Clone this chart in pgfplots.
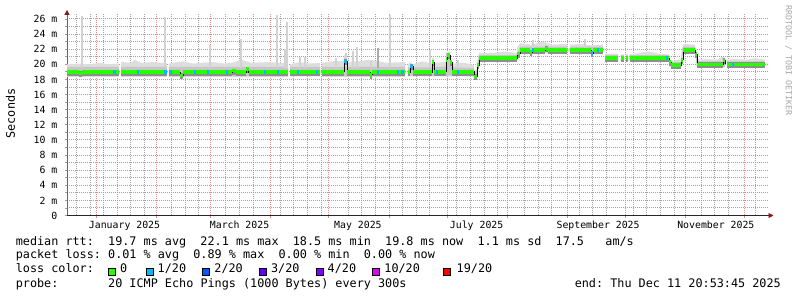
\documentclass[border=0pt]{standalone}
\usepackage{fontspec}
\setmainfont{DejaVu Sans Mono}
\usepackage{pgfplots}
\pgfplotsset{compat=1.18}
\usetikzlibrary{arrows.meta}
\definecolor{mgrid}{HTML}{DC8C8C}
\definecolor{ngrid}{HTML}{A0A0A0}
\definecolor{arrowred}{HTML}{8B1A1A}
\definecolor{smokeA}{HTML}{DEDEDE}
\definecolor{smokeB}{HTML}{C6C6C6}
\definecolor{smokeC}{HTML}{8E8E8E}
\definecolor{spike}{HTML}{D2D2D2}
\definecolor{spikeD}{HTML}{ABABAB}
\definecolor{lossA}{HTML}{26FF00}
\definecolor{lossB}{HTML}{00B8FF}
\definecolor{lossC}{HTML}{0059FF}
\definecolor{lossD}{HTML}{5E00FF}
\definecolor{lossE}{HTML}{7E00FF}
\definecolor{lossF}{HTML}{DD00FF}
\definecolor{lossG}{HTML}{FF0000}
\newcommand\legfont{\fontsize{11.8}{14}\selectfont}
\newcommand\tickfont{\fontsize{9.85}{12}\selectfont}

\begin{document}
\frenchspacing
\begin{tikzpicture}[x=1pt,y=1pt]
\useasboundingbox (0,0) rectangle (797,297);
\begin{axis}[
  at={(67pt,81.5pt)}, anchor=south west,
  scale only axis, width=702pt, height=201.1pt,
  xmin=-14.95, xmax=346.9, ymin=0, ymax=26.6,
  axis lines=left,
  x axis line style={black!85, line width=0.9pt, -{Triangle[length=5pt,width=5pt,color=arrowred]}, shorten >=-4.5pt},
  y axis line style={black!60, line width=0.9pt, -{Triangle[length=5pt,width=5pt,color=arrowred]}, shorten >=-4.5pt},
  unbounded coords=jump,
  xmajorgrids=true, ymajorgrids=true, yminorgrids=true,
  major grid style={mgrid, line width=0.9pt, dash pattern=on 1pt off 1pt},
  minor grid style={ngrid, line width=0.9pt, dash pattern=on 1pt off 1pt},
  tick align=outside, major tick length=2.5pt, minor tick length=2.5pt,
  major tick style={mgrid, line width=0.8pt},
  minor tick style={ngrid, line width=0.8pt},
  xtick={0,31,59,90,120,151,181,212,243,273,304,334},
  xticklabels={},
  extra x ticks={14.7,74,135,196.2,258.8,319.5},
  extra x tick labels={January 2025,March 2025,May 2025,July 2025,September 2025,November 2025},
  extra x tick style={major grid style={draw=none}, major tick length=0pt},
  ytick={0,2,...,26},
  yticklabels={0,2 m,4 m,6 m,8 m,10 m,12 m,14 m,16 m,18 m,20 m,22 m,24 m,26 m},
  minor ytick={1,3,...,25},
  tick label style={font=\tickfont, text=black},
  xticklabel style={anchor=base, inner sep=0pt, yshift=-13pt},
  yticklabel style={anchor=east, inner sep=0pt, xshift=-7pt},
]
% weekly grid lines
\addplot[ngrid, line width=1pt, dash pattern=on 1pt off 1pt, forget plot] coordinates {
(-10,-0.4) (-10,26.6) (-10,nan) (-3,-0.4) (-3,26.6) (-3,nan) (4,-0.4) (4,26.6) (4,nan)
(11,-0.4) (11,26.6) (11,nan) (18,-0.4) (18,26.6) (18,nan) (25,-0.4) (25,26.6) (25,nan)
(39,-0.4) (39,26.6) (39,nan) (46,-0.4) (46,26.6) (46,nan) (53,-0.4) (53,26.6) (53,nan)
(67,-0.4) (67,26.6) (67,nan) (74,-0.4) (74,26.6) (74,nan) (81,-0.4) (81,26.6) (81,nan)
(95,-0.4) (95,26.6) (95,nan) (102,-0.4) (102,26.6) (102,nan) (109,-0.4) (109,26.6) (109,nan)
(116,-0.4) (116,26.6) (116,nan) (130,-0.4) (130,26.6) (130,nan) (137,-0.4) (137,26.6) (137,nan)
(144,-0.4) (144,26.6) (144,nan) (158,-0.4) (158,26.6) (158,nan) (165,-0.4) (165,26.6) (165,nan)
(172,-0.4) (172,26.6) (172,nan) (186,-0.4) (186,26.6) (186,nan) (193,-0.4) (193,26.6) (193,nan)
(200,-0.4) (200,26.6) (200,nan) (207,-0.4) (207,26.6) (207,nan) (221,-0.4) (221,26.6) (221,nan)
(228,-0.4) (228,26.6) (228,nan) (235,-0.4) (235,26.6) (235,nan) (249,-0.4) (249,26.6) (249,nan)
(256,-0.4) (256,26.6) (256,nan) (263,-0.4) (263,26.6) (263,nan) (277,-0.4) (277,26.6) (277,nan)
(284,-0.4) (284,26.6) (284,nan) (291,-0.4) (291,26.6) (291,nan) (298,-0.4) (298,26.6) (298,nan)
(312,-0.4) (312,26.6) (312,nan) (319,-0.4) (319,26.6) (319,nan) (326,-0.4) (326,26.6) (326,nan)
(340,-0.4) (340,26.6)
};
% smoke, outer band
\addplot[fill=smokeA, draw=none] coordinates {
(-14.95,20.0) (-9,20.1) (-3,20.0) (2,20.2) (6,20.0) (11.9,20.1) (11.9,18.35) (-14.95,18.35) (-14.95,nan)
(12.9,20.3) (18,20.2) (20,20.6) (23,20.2) (30,20.3) (36.6,20.1) (36.6,18.35) (12.9,18.35) (12.9,nan)
(37.6,20.1) (45,20.4) (50,20.1) (60,20.3) (66,20.1) (70,20.2) (75,20.6) (80,20.2) (90,20.3) (99,20.1) (99,18.3) (37.6,18.3) (37.6,nan)
(100,20.0) (105,20.3) (110,20.1) (115.5,20.2) (115.5,18.4) (100,18.4) (100,nan)
(116.5,20.2) (122,20.4) (127.8,20.5) (127.8,21.2) (129.4,21.2) (129.4,20.3) (135,20.4) (141,20.6) (150,20.2) (159.3,20.3) (159.3,18.35) (116.5,18.35) (116.5,nan)
(160.8,20.0) (161.9,20.3) (163.4,20.0) (168,20.4) (173.2,20.1) (173.2,20.8) (174.2,20.8) (174.2,20.2) (180.4,20.3) (180.4,21.6) (182.5,21.6) (183.5,20.1) (190,20.2) (194.8,19.9) (194.8,19.3) (196.4,19.3) (196.4,20.3) (197.4,21.5) (205,21.5) (210,21.7) (217,21.5) (217,22.2) (218.6,22.8) (225,22.6) (230,23.0) (235,22.6) (242.8,22.7) (242.8,21.45) (218.6,21.45) (217,20.45) (197.4,20.45) (196.4,18.0) (194.8,18.0) (194.8,18.4) (160.8,18.4) (160.8,nan)
(244.3,22.6) (250,22.7) (255.2,22.5) (261.3,22.6) (261.3,21.45) (244.3,21.45) (244.3,nan)
(262.4,21.4) (269.1,21.4) (269.1,20.45) (262.4,20.45) (262.4,nan)
(270.6,21.3) (272.2,21.3) (272.2,20.45) (270.6,20.45) (270.6,nan)
(273.2,21.3) (274.2,21.3) (274.2,20.45) (273.2,20.45) (273.2,nan)
(275,21.3) (280,21.5) (285,21.7) (290,21.4) (295.4,21.3) (295.4,20.7) (296.4,20.5) (301.5,20.6) (301.5,21.2) (302.6,22.7) (308.8,22.6) (308.8,21.9) (309.8,20.6) (315,20.7) (320,20.6) (323.2,21.0) (324.2,20.6) (324.2,19.55) (309.8,19.55) (308.8,21.55) (302.6,21.55) (301.5,19.45) (296.4,19.45) (295.4,20.45) (275,20.45) (275,nan)
(325.3,20.6) (330,20.7) (335,20.6) (340,20.8) (344.8,20.6) (344.8,19.55) (325.3,19.55)
};
% smoke, inner band
\addplot[fill=smokeB, draw=none] coordinates {
(-14.95,19.65) (11.9,19.65) (11.9,18.5) (-14.95,18.5) (-14.95,nan)
(12.9,19.65) (36.6,19.65) (36.6,18.5) (12.9,18.5) (12.9,nan)
(37.6,19.65) (99,19.65) (99,18.45) (37.6,18.45) (37.6,nan)
(100,19.65) (115.5,19.65) (115.5,18.5) (100,18.5) (100,nan)
(116.5,19.65) (127.8,19.65) (127.8,20.8) (129.4,20.8) (129.4,19.65) (159.3,19.65) (159.3,18.45) (116.5,18.45) (116.5,nan)
(160.8,19.6) (173.2,19.6) (173.2,20.6) (174.2,20.6) (174.2,19.6) (180.4,19.7) (180.4,21.4) (182.5,21.4) (183.5,19.6) (194.8,19.5) (194.8,18.9) (196.4,19.2) (197.4,21.2) (217,21.2) (218.6,22.35) (242.8,22.35) (242.8,21.65) (218.6,21.65) (217,20.55) (197.4,20.55) (196.4,18.15) (194.8,18.15) (194.8,18.5) (160.8,18.5) (160.8,nan)
(244.3,22.35) (261.3,22.35) (261.3,21.65) (244.3,21.65) (244.3,nan)
(262.4,21.2) (269.1,21.2) (269.1,20.55) (262.4,20.55) (262.4,nan)
(270.6,21.2) (272.2,21.2) (272.2,20.55) (270.6,20.55) (270.6,nan)
(273.2,21.2) (274.2,21.2) (274.2,20.55) (273.2,20.55) (273.2,nan)
(275,21.2) (295.4,21.2) (295.4,20.7) (296.4,20.3) (301.5,20.3) (302.6,22.35) (308.8,22.35) (309.8,20.4) (324.2,20.4) (324.2,19.65) (309.8,19.65) (308.8,21.65) (302.6,21.65) (301.5,19.6) (296.4,19.6) (295.4,20.55) (275,20.55) (275,nan)
(325.3,20.4) (344.8,20.4) (344.8,19.65) (325.3,19.65)
};
% smoke spikes
\addplot[spike, line width=1.6pt] coordinates {
(-7.2,19.5) (-7.2,26.4) (-7.2,nan)
(35.6,19.5) (35.6,26.3) (35.6,nan)
(58.8,19.5) (58.8,22.6) (58.8,nan)
(74.7,19.5) (74.7,23.4) (74.7,nan)
(93.3,19.5) (93.3,26.5) (93.3,nan)
(97.4,19.5) (97.4,22.0) (97.4,nan)
(98.5,19.5) (98.5,25.6) (98.5,nan)
(105.2,19.5) (105.2,20.9) (105.2,nan)
(107.7,19.5) (107.7,20.9) (107.7,nan)
(123.7,19.5) (123.7,20.8) (123.7,nan)
(128.9,19.5) (128.9,21.5) (128.9,nan)
(132.5,19.5) (132.5,21.7) (132.5,nan)
(134.5,19.5) (134.5,22.3) (134.5,nan)
(141.8,19.5) (141.8,20.4) (141.8,nan)
(151.5,19.5) (151.5,26.5) (151.5,nan)
(172.2,19.5) (172.2,21.9) (172.2,nan)
(186.6,19.5) (186.6,20.6) (186.6,nan)
(225.3,21.5) (225.3,23.2) (225.3,nan)
(232,21.5) (232,22.5) (232,nan)
(252,21.5) (252,23.4) (252,nan)
(323.2,20) (323.2,21.0)
};
\addplot[spikeD, line width=1.6pt] coordinates {(145.4,19.5) (145.4,22.2)};
% dense core of the smoke (same horizontal median runs, shifted down)
\addplot[smokeC, line width=6pt, yshift=-0.8pt] coordinates {
(-14.95,18.95) (-9,18.95) (-9,nan) (-9,18.8) (-7,18.8) (-7,nan) (-7,18.95) (11.9,18.95) (11.9,nan)
(12.9,18.95) (36.6,18.95) (36.6,nan)
(37.6,18.95) (43.3,18.95) (43.3,nan) (43.3,18.55) (44.8,18.55) (44.8,nan) (44.8,18.95) (70.1,18.95) (70.1,nan)
(70.1,19.15) (72.2,19.15) (72.2,nan) (72.2,18.95) (77.3,18.95) (77.3,nan) (77.3,19.35) (78.8,19.35) (78.8,nan)
(78.8,18.95) (99,18.95) (99,nan)
(100,19.0) (115.5,19.0) (115.5,nan)
(116.5,19.0) (127.8,19.0) (127.8,nan) (127.8,20.4) (129.4,20.4) (129.4,nan) (129.4,18.95) (141.2,18.95) (141.2,nan)
(141.2,18.6) (142.5,18.6) (142.5,nan) (142.5,18.95) (159.3,18.95) (159.3,nan)
(160.8,18.95) (161.9,18.95) (161.9,nan) (161.9,19.7) (163.4,19.7) (163.4,nan) (163.4,18.95) (173.2,18.95) (173.2,nan)
(173.2,20.3) (174.2,20.3) (174.2,nan) (174.2,19.0) (180.4,19.0) (180.4,nan) (180.4,20.6) (180.9,20.6) (180.9,nan)
(180.9,21.2) (182.5,21.2) (182.5,nan) (182.5,20.3) (183.5,20.3) (183.5,nan) (183.5,19.0) (194.8,19.0) (194.8,nan)
(194.8,18.4) (196.4,18.4) (196.4,nan) (196.4,19.9) (197.4,19.9) (197.4,nan) (197.4,20.8) (217,20.8) (217,nan)
(217,21.4) (218.6,21.4) (218.6,nan) (218.6,21.9) (223.7,21.9) (223.7,nan) (223.7,21.6) (224.7,21.6) (224.7,nan)
(224.7,21.9) (231.4,21.9) (231.4,nan) (231.4,22.1) (233,22.1) (233,nan) (233,21.9) (242.8,21.9) (242.8,nan)
(244.3,21.9) (255.2,21.9) (255.2,nan) (255.2,21.5) (256.2,21.5) (256.2,nan) (256.2,21.9) (261.3,21.9) (261.3,nan)
(262.4,20.8) (269.1,20.8) (269.1,nan) (270.6,20.8) (272.2,20.8) (272.2,nan) (273.2,20.8) (274.2,20.8) (274.2,nan)
(275,20.8) (295.4,20.8) (295.4,nan) (295.4,20.3) (296.4,20.3) (296.4,nan) (296.4,19.9) (301.5,19.9) (301.5,nan)
(301.5,20.6) (302.6,20.6) (302.6,nan) (302.6,21.9) (308.8,21.9) (308.8,nan) (308.8,21.3) (309.8,21.3) (309.8,nan)
(309.8,20.0) (323.2,20.0) (323.2,nan) (323.2,20.5) (324.2,20.5) (324.2,nan)
(325.3,20.0) (344.8,20.0)
};
% median line (steps)
\addplot[black, line width=0.8pt, const plot mark left] coordinates {
(-14.95,18.95) (-9,18.8) (-7,18.95) (11.9,18.95) (11.9,nan)
(12.9,18.95) (36.6,18.95) (36.6,nan)
(37.6,18.95) (43.3,18.55) (44.8,18.95) (70.1,19.15) (72.2,18.95) (77.3,19.35) (78.8,18.95) (99,18.95) (99,nan)
(100,19.0) (115.5,19.0) (115.5,nan)
(116.5,19.0) (127.8,20.4) (129.4,18.95) (141.2,18.6) (142.5,18.95) (159.3,18.95) (159.3,nan)
(160.8,18.95) (161.9,19.7) (163.4,18.95) (173.2,20.3) (174.2,19.0) (180.4,20.6) (180.9,21.2) (182.5,20.3) (183.5,19.0) (194.8,18.4) (196.4,19.9) (197.4,20.8) (217,21.4) (218.6,21.9) (223.7,21.6) (224.7,21.9) (231.4,22.1) (233,21.9) (242.8,21.9) (242.8,nan)
(244.3,21.9) (255.2,21.5) (256.2,21.9) (261.3,21.9) (261.3,nan)
(262.4,20.8) (269.1,20.8) (269.1,nan)
(270.6,20.8) (272.2,20.8) (272.2,nan)
(273.2,20.8) (274.2,20.8) (274.2,nan)
(275,20.8) (295.4,20.3) (296.4,19.9) (301.5,20.6) (302.6,21.9) (308.8,21.3) (309.8,20.0) (323.2,20.5) (324.2,20.0) (324.2,nan)
(325.3,20.0) (344.8,20.0)
};
% median coloured by loss: 0/20 (horizontal runs)
\addplot[lossA, line width=3.5pt] coordinates {
(-14.95,18.95) (-9,18.95) (-9,nan) (-9,18.8) (-7,18.8) (-7,nan) (-7,18.95) (11.9,18.95) (11.9,nan)
(12.9,18.95) (36.6,18.95) (36.6,nan)
(37.6,18.95) (43.3,18.95) (43.3,nan) (43.3,18.55) (44.8,18.55) (44.8,nan) (44.8,18.95) (70.1,18.95) (70.1,nan)
(70.1,19.15) (72.2,19.15) (72.2,nan) (72.2,18.95) (77.3,18.95) (77.3,nan) (77.3,19.35) (78.8,19.35) (78.8,nan)
(78.8,18.95) (99,18.95) (99,nan)
(100,19.0) (115.5,19.0) (115.5,nan)
(116.5,19.0) (127.8,19.0) (127.8,nan) (127.8,20.4) (129.4,20.4) (129.4,nan) (129.4,18.95) (141.2,18.95) (141.2,nan)
(141.2,18.6) (142.5,18.6) (142.5,nan) (142.5,18.95) (159.3,18.95) (159.3,nan)
(160.8,18.95) (161.9,18.95) (161.9,nan) (161.9,19.7) (163.4,19.7) (163.4,nan) (163.4,18.95) (173.2,18.95) (173.2,nan)
(173.2,20.3) (174.2,20.3) (174.2,nan) (174.2,19.0) (180.4,19.0) (180.4,nan) (180.4,20.6) (180.9,20.6) (180.9,nan)
(180.9,21.2) (182.5,21.2) (182.5,nan) (182.5,20.3) (183.5,20.3) (183.5,nan) (183.5,19.0) (194.8,19.0) (194.8,nan)
(194.8,18.4) (196.4,18.4) (196.4,nan) (196.4,19.9) (197.4,19.9) (197.4,nan) (197.4,20.8) (217,20.8) (217,nan)
(217,21.4) (218.6,21.4) (218.6,nan) (218.6,21.9) (223.7,21.9) (223.7,nan) (223.7,21.6) (224.7,21.6) (224.7,nan)
(224.7,21.9) (231.4,21.9) (231.4,nan) (231.4,22.1) (233,22.1) (233,nan) (233,21.9) (242.8,21.9) (242.8,nan)
(244.3,21.9) (255.2,21.9) (255.2,nan) (255.2,21.5) (256.2,21.5) (256.2,nan) (256.2,21.9) (261.3,21.9) (261.3,nan)
(262.4,20.8) (269.1,20.8) (269.1,nan) (270.6,20.8) (272.2,20.8) (272.2,nan) (273.2,20.8) (274.2,20.8) (274.2,nan)
(275,20.8) (295.4,20.8) (295.4,nan) (295.4,20.3) (296.4,20.3) (296.4,nan) (296.4,19.9) (301.5,19.9) (301.5,nan)
(301.5,20.6) (302.6,20.6) (302.6,nan) (302.6,21.9) (308.8,21.9) (308.8,nan) (308.8,21.3) (309.8,21.3) (309.8,nan)
(309.8,20.0) (323.2,20.0) (323.2,nan) (323.2,20.5) (324.2,20.5) (324.2,nan)
(325.3,20.0) (344.8,20.0)
};
% median coloured by loss: 1/20 (one short run each)
\addplot[lossB, line width=3.5pt] coordinates {(9.0,18.95) (10.2,18.95)};
\addplot[lossB, line width=3.5pt] coordinates {(21.0,18.95) (22.2,18.95)};
\addplot[lossB, line width=3.5pt] coordinates {(35.0,18.95) (36.4,18.95)};
\addplot[lossB, line width=3.5pt] coordinates {(37.8,18.95) (39.0,18.95)};
\addplot[lossB, line width=3.5pt] coordinates {(50.5,18.95) (51.7,18.95)};
\addplot[lossB, line width=3.5pt] coordinates {(57.2,18.95) (58.4,18.95)};
\addplot[lossB, line width=3.5pt] coordinates {(67.0,18.95) (68.2,18.95)};
\addplot[lossB, line width=3.5pt] coordinates {(86.5,18.95) (87.7,18.95)};
\addplot[lossB, line width=3.5pt] coordinates {(93.3,18.95) (94.5,18.95)};
\addplot[lossB, line width=3.5pt] coordinates {(103.6,19.0) (104.8,19.0)};
\addplot[lossB, line width=3.5pt] coordinates {(113.4,19.0) (114.6,19.0)};
\addplot[lossB, line width=3.5pt] coordinates {(128.0,20.4) (129.2,20.4)};
\addplot[lossB, line width=3.5pt] coordinates {(144.8,18.95) (146.0,18.95)};
\addplot[lossB, line width=3.5pt] coordinates {(155.2,18.95) (156.4,18.95)};
\addplot[lossB, line width=3.5pt] coordinates {(157.4,18.95) (158.6,18.95)};
\addplot[lossB, line width=3.5pt] coordinates {(162.0,19.7) (163.2,19.7)};
\addplot[lossB, line width=3.5pt] coordinates {(175.3,19.0) (176.5,19.0)};
\addplot[lossB, line width=3.5pt] coordinates {(186.0,19.0) (187.2,19.0)};
\addplot[lossB, line width=3.5pt] coordinates {(224.8,21.9) (226.0,21.9)};
\addplot[lossB, line width=3.5pt] coordinates {(255.2,21.5) (256.2,21.5)};
\addplot[lossB, line width=3.5pt] coordinates {(258.3,21.9) (259.5,21.9)};
\addplot[lossB, line width=3.5pt] coordinates {(293.7,20.8) (294.9,20.8)};
\addplot[lossB, line width=3.5pt] coordinates {(327.8,20.0) (329.0,20.0)};
\end{axis}
% texts around the graph
\node[rotate=90, font=\legfont, inner sep=0pt] at (10.5,183.5) {Seconds};
\node[rotate=-90, anchor=west, font=\fontsize{8.3}{10}\selectfont, text=black!35, inner sep=0pt] at (788.5,292) {RRDTOOL / TOBI OETIKER};
\begin{scope}[every node/.style={anchor=base west, inner sep=0pt, font=\legfont}]
\node at (15.6,52) {median rtt:~~19.7 ms avg~~22.1 ms max~~18.5 ms min~~19.8 ms now~~1.1 ms sd~~17.5~~~am/s};
\node at (15.6,38) {packet loss: 0.01 \% avg~~0.89 \% max~~0.00 \% min~~0.00 \% now};
\node at (15.6,24) {loss color:};
\node at (119.9,24) {0};
\node at (157.5,24) {1/20};
\node at (214.2,24) {2/20};
\node at (270.9,24) {3/20};
\node at (327.5,24) {4/20};
\node at (384.2,24) {10/20};
\node at (456.5,24) {19/20};
\node at (15.6,10) {probe:~~~~~~~20 ICMP Echo Pings (1000 Bytes) every 300s};
\node[anchor=base east] at (781,10) {end: Thu Dec 11 20:53:45 2025};
\end{scope}
\begin{scope}[line width=0.8pt, draw=black]
\filldraw[fill=lossA] (108.1,21.7) rectangle (114.9,28.7);
\filldraw[fill=lossB] (146.1,21.7) rectangle (152.9,28.7);
\filldraw[fill=lossC] (202.7,21.7) rectangle (209.5,28.7);
\filldraw[fill=lossD] (259.4,21.7) rectangle (266.2,28.7);
\filldraw[fill=lossE] (316.1,21.7) rectangle (322.9,28.7);
\filldraw[fill=lossF] (372.7,21.7) rectangle (379.5,28.7);
\filldraw[fill=lossG] (443.1,21.7) rectangle (449.9,28.7);
\end{scope}
\end{tikzpicture}
\end{document}
